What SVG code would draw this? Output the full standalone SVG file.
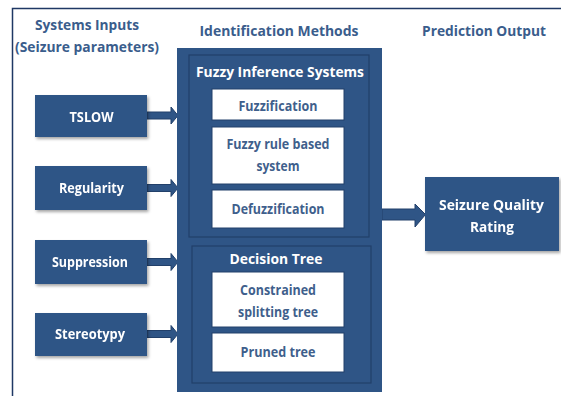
<svg xmlns="http://www.w3.org/2000/svg" width="561" height="396" viewBox="0 0 561 396">
<defs>
<filter id="sh" x="-10%" y="-10%" width="130%" height="140%">
<feDropShadow dx="1.5" dy="2" stdDeviation="1.5" flood-color="#000" flood-opacity="0.35"/>
</filter>
<style>
.blue{fill:#2F5586;}
.inner{fill:#2F5586;stroke:#22406a;stroke-width:1.2;}
.wbox{fill:#ffffff;stroke:#22406a;stroke-width:1;}
.head{font-family:"Open Sans","Liberation Sans",sans-serif;font-weight:bold;font-size:15px;fill:#3A5D8C;text-anchor:middle;}
.wt{font-family:"Open Sans","Liberation Sans",sans-serif;font-weight:bold;font-size:14.5px;fill:#ffffff;text-anchor:middle;}
.bt{font-family:"Open Sans","Liberation Sans",sans-serif;font-weight:bold;font-size:14px;fill:#3F5F8C;text-anchor:middle;}
.arr{fill:#2F5586;stroke:#22406a;stroke-width:1;}
</style>
</defs>
<rect x="0" y="0" width="561" height="396" fill="#ffffff"/>
<path d="M12.5 396 V8.5 H561" fill="none" stroke="#1F3864" stroke-width="1.5"/>

<g id="headings">
<text class="head" x="87" y="30" textLength="104" lengthAdjust="spacingAndGlyphs">Systems Inputs</text>
<text class="head" x="87" y="52" textLength="144" lengthAdjust="spacingAndGlyphs">(Seizure parameters)</text>
<text class="head" x="279" y="36" textLength="159" lengthAdjust="spacingAndGlyphs">Identification Methods</text>
<text class="head" x="484" y="36" textLength="124" lengthAdjust="spacingAndGlyphs">Prediction Output</text>
</g>

<g id="connectors">
<path class="arr" d="M147 112 H171 V107 L178 115.5 L171 124 V119 H147 Z"/>
<path class="arr" d="M147 184.5 H171 V179.5 L178 188 L171 196.5 V191.5 H147 Z"/>
<path class="arr" d="M147 258.5 H171 V253.5 L178 262 L171 270.5 V265.5 H147 Z"/>
<path class="arr" d="M147 330.5 H171 V325.5 L178 334 L171 342.5 V337.5 H147 Z"/>
<path class="arr" d="M382 209 H415 V204 L425.5 214.5 L415 227 V220 H382 Z"/>
</g>

<g id="tslow" filter="url(#sh)">
<rect class="blue" x="35" y="95" width="112" height="42"/>
<text class="wt" x="91.5" y="121.5" textLength="44" lengthAdjust="spacingAndGlyphs">TSLOW</text>
</g>
<g id="regularity" filter="url(#sh)">
<rect class="blue" x="35" y="166" width="112" height="44"/>
<text class="wt" x="91.5" y="193" textLength="65" lengthAdjust="spacingAndGlyphs">Regularity</text>
</g>
<g id="suppression" filter="url(#sh)">
<rect class="blue" x="35" y="240" width="112" height="44"/>
<text class="wt" x="90" y="267" textLength="76" lengthAdjust="spacingAndGlyphs">Suppression</text>
</g>
<g id="stereotypy" filter="url(#sh)">
<rect class="blue" x="35" y="313" width="112" height="43"/>
<text class="wt" x="90" y="339" textLength="70" lengthAdjust="spacingAndGlyphs">Stereotypy</text>
</g>

<g id="identification-methods">
<rect class="blue" x="177" y="48" width="205" height="344"/>
</g>

<g id="fuzzy-inference-systems">
<rect class="inner" x="189" y="55" width="180" height="182"/>
<text class="wt" x="280" y="77" textLength="168" lengthAdjust="spacingAndGlyphs">Fuzzy Inference Systems</text>
</g>
<g id="fuzzification">
<rect class="wbox" x="212" y="89" width="132" height="31"/>
<text class="bt" x="278" y="110.5" textLength="79" lengthAdjust="spacingAndGlyphs">Fuzzification</text>
</g>
<g id="fuzzy-rule-based-system">
<rect class="wbox" x="212" y="127" width="132" height="57"/>
<text class="bt" x="278" y="149" textLength="103" lengthAdjust="spacingAndGlyphs">Fuzzy rule based</text>
<text class="bt" x="278" y="171" textLength="43" lengthAdjust="spacingAndGlyphs">system</text>
</g>
<g id="defuzzification">
<rect class="wbox" x="212" y="190" width="132" height="38"/>
<text class="bt" x="278" y="213.5" textLength="93" lengthAdjust="spacingAndGlyphs">Defuzzification</text>
</g>

<g id="decision-tree">
<rect class="inner" x="192" y="246" width="179" height="137"/>
<text class="wt" x="276" y="263.5" textLength="93" lengthAdjust="spacingAndGlyphs">Decision Tree</text>
</g>
<g id="constrained-splitting-tree">
<rect class="wbox" x="212" y="272" width="132" height="55"/>
<text class="bt" x="278" y="295" textLength="76" lengthAdjust="spacingAndGlyphs">Constrained</text>
<text class="bt" x="278" y="317" textLength="80" lengthAdjust="spacingAndGlyphs">splitting tree</text>
</g>
<g id="pruned-tree">
<rect class="wbox" x="212" y="333" width="132" height="39"/>
<text class="bt" x="278" y="357" textLength="75" lengthAdjust="spacingAndGlyphs">Pruned tree</text>
</g>

<g id="seizure-quality-rating" filter="url(#sh)">
<rect class="blue" x="425" y="177" width="134" height="74"/>
<text class="wt" x="491.5" y="210" textLength="105" lengthAdjust="spacingAndGlyphs">Seizure Quality</text>
<text class="wt" x="492" y="232" textLength="44" lengthAdjust="spacingAndGlyphs">Rating</text>
</g>
</svg>
